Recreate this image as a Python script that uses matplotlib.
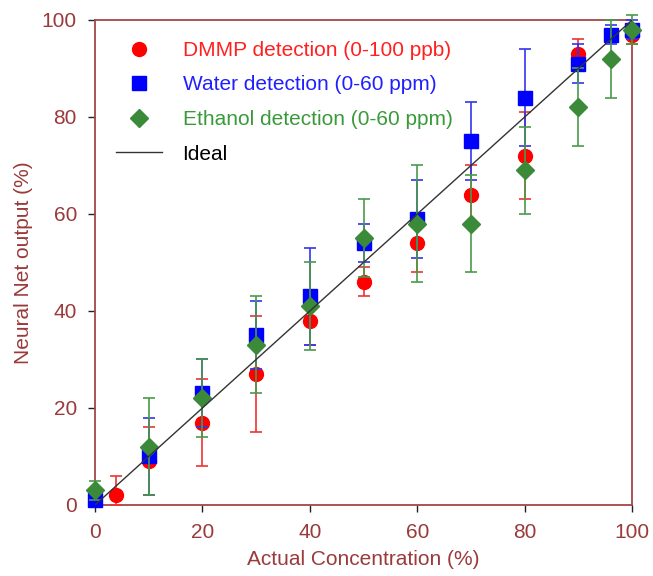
import matplotlib
matplotlib.use('Agg')
import matplotlib.pyplot as plt

plt.rcParams['font.family'] = ['Liberation Sans', 'DejaVu Sans']

# DMMP detection (0-100 ppb)
dmmp_x = [4, 10, 20, 30, 40, 50, 60, 70, 80, 90, 100]
dmmp_y = [2, 9, 17, 27, 38, 46, 54, 64, 72, 93, 97]
dmmp_lo = [2, 7, 9, 12, 5, 3, 6, 6, 9, 3, 2]
dmmp_hi = [4, 7, 9, 12, 5, 3, 6, 6, 9, 3, 2]

# Water detection (0-60 ppm)
water_x = [0, 10, 20, 30, 40, 50, 60, 70, 80, 90, 96, 100]
water_y = [1, 10, 23, 35, 43, 54, 59, 75, 84, 91, 97, 98]
water_err = [1, 8, 7, 7, 10, 4, 8, 8, 10, 4, 2, 2]

# Ethanol detection (0-60 ppm)
eth_x = [0, 10, 20, 30, 40, 50, 60, 70, 80, 90, 96, 100]
eth_y = [3, 12, 22, 33, 41, 55, 58, 58, 69, 82, 92, 98]
eth_err = [2, 10, 8, 10, 9, 8, 12, 10, 9, 8, 8, 3]

ideal_x = [0, 100]
ideal_y = [0, 100]

axis_col = '#a04848'
label_col = '#9a3a3a'

fig = plt.figure(figsize=(6.53, 5.76), dpi=100)
ax = fig.add_axes([0.1455, 0.1233, 0.8225, 0.842])

e1 = ax.errorbar(dmmp_x, dmmp_y, yerr=[dmmp_lo, dmmp_hi], fmt='o', color='#ff0000',
                 ecolor='#ee3333', markersize=10, capsize=4, elinewidth=1.2,
                 capthick=1.2, clip_on=False, zorder=3)
e2 = ax.errorbar(water_x, water_y, yerr=water_err, fmt='s', color='#0000ff',
                 ecolor='#3333ee', markersize=10, capsize=4, elinewidth=1.2,
                 capthick=1.2, clip_on=False, zorder=4)
e3 = ax.errorbar(eth_x, eth_y, yerr=eth_err, fmt='D', color='#3a8a3a',
                 ecolor='#4a9a4a', markersize=9, capsize=4, elinewidth=1.2,
                 capthick=1.2, clip_on=False, zorder=5)
ideal, = ax.plot(ideal_x, ideal_y, color='#333333', linewidth=1, zorder=6)

ax.set_xlim(0, 100)
ax.set_ylim(0, 100)
ax.set_xticks([0, 20, 40, 60, 80, 100])
ax.set_yticks([0, 20, 40, 60, 80, 100])
ax.tick_params(direction='out', length=5, width=1, color='#222222',
               labelcolor=label_col, labelsize=15, pad=8)
for s in ax.spines.values():
    s.set_color(axis_col)
    s.set_linewidth(1.3)

ax.set_xlabel('Actual Concentration (%)', color=label_col, fontsize=15, labelpad=6)
ax.set_ylabel('Neural Net output (%)', color=label_col, fontsize=15, labelpad=6)

handles = [e1[0], e2[0], e3[0], ideal]
labels = ['DMMP detection (0-100 ppb)', 'Water detection (0-60 ppm)',
          'Ethanol detection (0-60 ppm)', 'Ideal']
leg = ax.legend(handles, labels, loc='upper left', frameon=False, fontsize=15,
                handlelength=2.2, borderaxespad=0.6, labelspacing=0.75,
                handletextpad=1.0, bbox_to_anchor=(0.0, 1.0))
for txt, c in zip(leg.get_texts(), ['#ff2020', '#2020ff', '#3a9a3a', 'black']):
    txt.set_color(c)

fig.savefig('out.png', dpi=100)
